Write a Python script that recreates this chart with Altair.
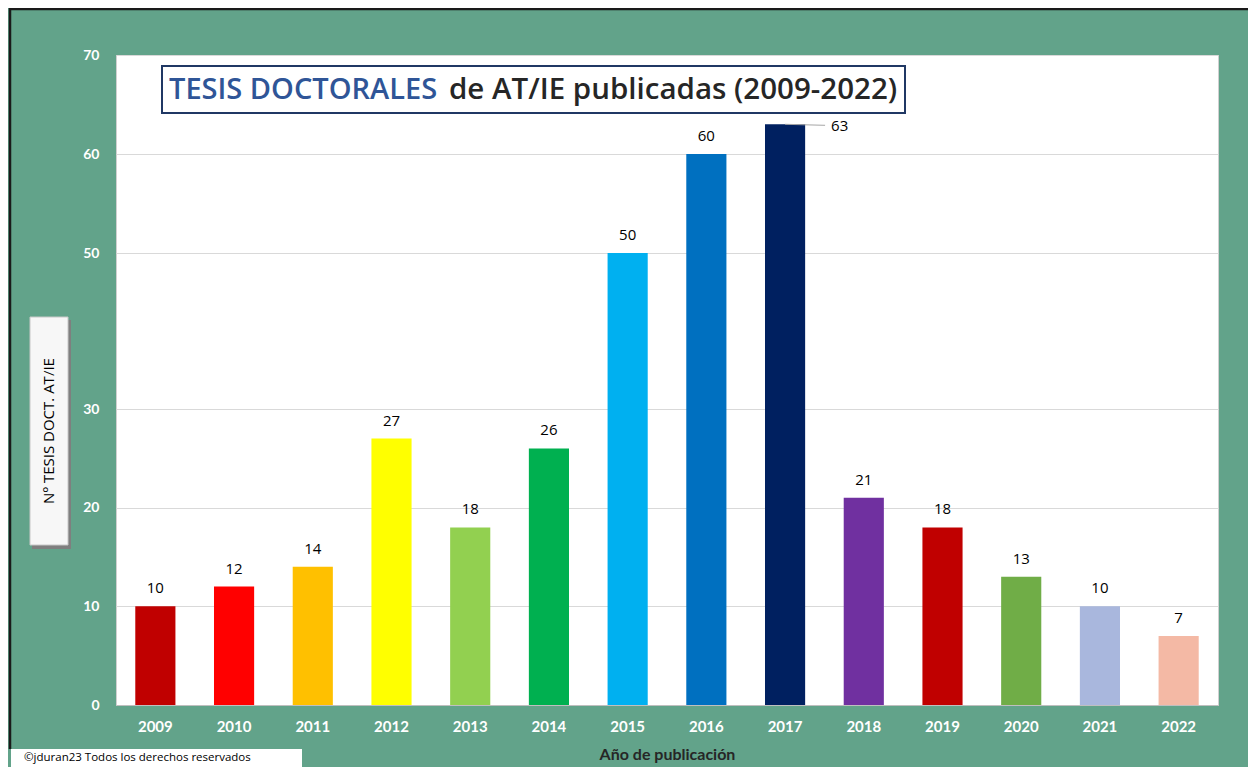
import altair as alt
import pandas as pd

years = ["2009", "2010", "2011", "2012", "2013", "2014", "2015",
         "2016", "2017", "2018", "2019", "2020", "2021", "2022"]
values = [10, 12, 14, 27, 18, 26, 50, 60, 63, 21, 18, 13, 10, 7]
colors = ["#C00000", "#FF0000", "#FFC000", "#FFFF00", "#92D050", "#00B050",
          "#00B0F0", "#0070C0", "#002060", "#7030A0", "#C00000", "#70AD47",
          "#A9B7DD", "#F4B9A5"]
y_ticks = [0, 10, 20, 30, 50, 60, 70]
title_a = "TESIS DOCTORALES"
title_b = "de AT/IE publicadas (2009-2022)"
y_title = "Nº TESIS DOCT. AT/IE"
x_title = "Año de publicación"
copyright_txt = "©jduran23 Todos los derechos reservados"

FONT = "Lato"
TFONT = "Open Sans"
W, H = 1102, 650

df = pd.DataFrame({"year": years, "value": values})

x_enc = alt.X("year:N", sort=years,
              scale=alt.Scale(paddingInner=0.49, paddingOuter=0.245),
              axis=alt.Axis(title=x_title, labelAngle=0, labelColor="white",
                            labelFont=FONT, labelFontWeight="bold", labelFontSize=15,
                            labelPadding=14, ticks=False, domainColor="#BFBFBF",
                            titleFont=FONT, titleFontSize=16, titleFontWeight="bold",
                            titleColor="#262626", titlePadding=12, grid=False))
y_enc = alt.Y("value:Q",
              scale=alt.Scale(domain=[0, 30, 50, 70], range=[H, 354, 198, 0]),
              axis=alt.Axis(title=None, values=y_ticks, labelColor="white",
                            labelFont=FONT, labelFontWeight="bold", labelFontSize=14,
                            labelPadding=17, ticks=False, domain=False,
                            grid=True, gridColor="#D9D9D9"))

base = alt.Chart(df)

bars = base.mark_bar().encode(
    x=x_enc, y=y_enc,
    color=alt.Color("year:N", scale=alt.Scale(domain=years, range=colors), legend=None),
)

labels = base.transform_filter(alt.datum.year != "2017").mark_text(
    baseline="alphabetic", dy=-13, font=TFONT, fontSize=15, color="#000000"
).encode(x=alt.X("year:N", sort=years), y="value:Q", text="value:Q")

label63 = base.transform_filter(alt.datum.year == "2017").mark_text(
    baseline="middle", align="left", dx=46, dy=2, font=TFONT, fontSize=15, color="#000000"
).encode(x=alt.X("year:N", sort=years), y="value:Q", text="value:Q")

leader = base.transform_filter(alt.datum.year == "2017").mark_rule(
    color="#A6A6A6", strokeWidth=1, x2Offset=40, y2Offset=1
).encode(x=alt.X("year:N", sort=years), x2=alt.X2("year:N"),
         y="value:Q", y2=alt.Y2("value:Q"))

one = alt.Chart(pd.DataFrame({"a": [0]}))

title_box = one.mark_rect(fill="white", stroke="#203864", strokeWidth=2).encode(
    x=alt.value(46), x2=alt.value(789), y=alt.value(11), y2=alt.value(58))
title_t1 = one.mark_text(align="left", baseline="middle", font=TFONT, fontSize=29,
                         fontWeight=600, color="#2F5597").encode(
    x=alt.value(53), y=alt.value(35), text=alt.value(title_a))
title_t2 = one.mark_text(align="left", baseline="middle", font=TFONT, fontSize=29.5,
                         fontWeight=600, color="#262626").encode(
    x=alt.value(333), y=alt.value(35), text=alt.value(title_b))

ybtn_shadow = one.mark_rect(fill="#7F7F7F").encode(
    x=alt.value(-84), x2=alt.value(-45), y=alt.value(265), y2=alt.value(494))
ybtn = one.mark_rect(fill="#F7F7F7", stroke="#C8C8C8", strokeWidth=1).encode(
    x=alt.value(-86), x2=alt.value(-48), y=alt.value(262), y2=alt.value(490))
ytext = one.mark_text(angle=270, align="center", baseline="middle", font=TFONT,
                      fontSize=15, color="#000000").encode(
    x=alt.value(-67), y=alt.value(376), text=alt.value(y_title))

copy_box = one.mark_rect(fill="white").encode(
    x=alt.value(-105), x2=alt.value(186), y=alt.value(694), y2=alt.value(720))
copy_text = one.mark_text(align="left", baseline="middle", font=TFONT, fontSize=11.5,
                          color="#000000").encode(
    x=alt.value(-92), y=alt.value(703), text=alt.value(copyright_txt))

border_left = one.mark_rule(color="#1A1A1A", strokeWidth=2.5).encode(
    x=alt.value(-106), y=alt.value(-47), y2=alt.value(694))
border_top = one.mark_rule(color="#1A1A1A", strokeWidth=2.5).encode(
    x=alt.value(-107), x2=alt.value(1132), y=alt.value(-46))

chart = alt.layer(
    bars, labels, leader, label63,
    title_box, title_t1, title_t2,
    ybtn_shadow, ybtn, ytext,
    copy_box, copy_text, border_left, border_top,
).properties(
    width=W, height=H,
    autosize=alt.AutoSizeParams(type="none"),
    padding={"left": 108, "top": 47, "right": 30, "bottom": 62},
    background="#62A38A",
).configure_view(
    fill="white", stroke="#D0D0D0", strokeWidth=1,
)

chart.save("out.html", embed_options={"renderer": "svg", "actions": False})
